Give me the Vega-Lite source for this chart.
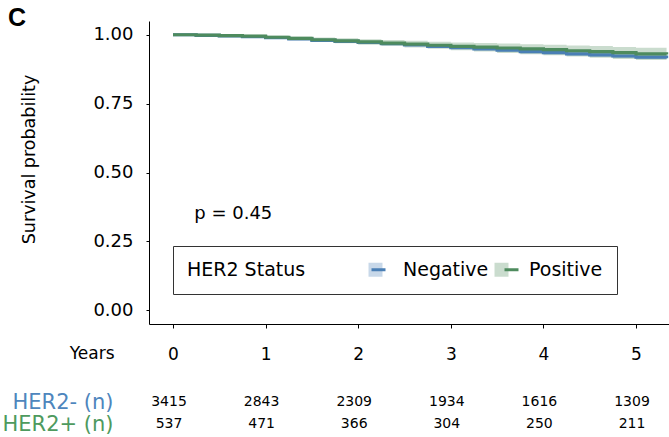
{
  "$schema": "https://vega.github.io/schema/vega-lite/v6.json",
  "background": "white",
  "padding": {"left": 2, "top": 6, "right": 0, "bottom": 0},
  "title": {
    "text": "C",
    "anchor": "start",
    "frame": "bounds",
    "font": "Liberation Sans",
    "fontSize": 25,
    "fontWeight": "bold",
    "color": "black",
    "dx": 6,
    "offset": -30,
    "baseline": "alphabetic"
  },
  "config": {
    "view": {"stroke": null},
    "font": "DejaVu Sans",
    "axis": {
      "grid": false,
      "domainColor": "black",
      "tickColor": "black",
      "labelColor": "black",
      "titleColor": "black",
      "titleFontWeight": "normal"
    }
  },
  "spacing": 29,
  "resolve": {
    "scale": {"fill": "independent", "stroke": "independent"},
    "legend": {"fill": "independent", "stroke": "independent"}
  },
  "datasets": {
    "km": [
      {"status": "Negative", "time": 0, "surv": 1.0, "lower": 1.0, "upper": 1.0},
      {"status": "Negative", "time": 0.25, "surv": 0.998, "lower": 0.997, "upper": 0.999},
      {"status": "Negative", "time": 0.5, "surv": 0.996, "lower": 0.994, "upper": 0.998},
      {"status": "Negative", "time": 0.75, "surv": 0.993, "lower": 0.991, "upper": 0.995},
      {"status": "Negative", "time": 1.0, "surv": 0.99, "lower": 0.987, "upper": 0.993},
      {"status": "Negative", "time": 1.25, "surv": 0.985, "lower": 0.982, "upper": 0.988},
      {"status": "Negative", "time": 1.5, "surv": 0.98, "lower": 0.977, "upper": 0.983},
      {"status": "Negative", "time": 1.75, "surv": 0.976, "lower": 0.972, "upper": 0.98},
      {"status": "Negative", "time": 2.0, "surv": 0.972, "lower": 0.968, "upper": 0.976},
      {"status": "Negative", "time": 2.25, "surv": 0.968, "lower": 0.964, "upper": 0.972},
      {"status": "Negative", "time": 2.5, "surv": 0.963, "lower": 0.959, "upper": 0.967},
      {"status": "Negative", "time": 2.75, "surv": 0.958, "lower": 0.953, "upper": 0.963},
      {"status": "Negative", "time": 3.0, "surv": 0.953, "lower": 0.948, "upper": 0.958},
      {"status": "Negative", "time": 3.25, "surv": 0.949, "lower": 0.944, "upper": 0.954},
      {"status": "Negative", "time": 3.5, "surv": 0.944, "lower": 0.939, "upper": 0.949},
      {"status": "Negative", "time": 3.75, "surv": 0.939, "lower": 0.933, "upper": 0.945},
      {"status": "Negative", "time": 4.0, "surv": 0.935, "lower": 0.929, "upper": 0.941},
      {"status": "Negative", "time": 4.25, "surv": 0.931, "lower": 0.925, "upper": 0.937},
      {"status": "Negative", "time": 4.5, "surv": 0.927, "lower": 0.92, "upper": 0.934},
      {"status": "Negative", "time": 4.75, "surv": 0.923, "lower": 0.916, "upper": 0.93},
      {"status": "Negative", "time": 5.0, "surv": 0.919, "lower": 0.912, "upper": 0.926},
      {"status": "Negative", "time": 5.33, "surv": 0.915, "lower": 0.907, "upper": 0.923},
      {"status": "Positive", "time": 0, "surv": 1.0, "lower": 1.0, "upper": 1.0},
      {"status": "Positive", "time": 0.25, "surv": 0.999, "lower": 0.997, "upper": 1.0},
      {"status": "Positive", "time": 0.5, "surv": 0.997, "lower": 0.993, "upper": 1.0},
      {"status": "Positive", "time": 0.75, "surv": 0.995, "lower": 0.99, "upper": 1.0},
      {"status": "Positive", "time": 1.0, "surv": 0.991, "lower": 0.985, "upper": 0.997},
      {"status": "Positive", "time": 1.25, "surv": 0.987, "lower": 0.98, "upper": 0.994},
      {"status": "Positive", "time": 1.5, "surv": 0.982, "lower": 0.974, "upper": 0.99},
      {"status": "Positive", "time": 1.75, "surv": 0.978, "lower": 0.969, "upper": 0.987},
      {"status": "Positive", "time": 2.0, "surv": 0.974, "lower": 0.964, "upper": 0.984},
      {"status": "Positive", "time": 2.25, "surv": 0.97, "lower": 0.959, "upper": 0.981},
      {"status": "Positive", "time": 2.5, "surv": 0.966, "lower": 0.954, "upper": 0.978},
      {"status": "Positive", "time": 2.75, "surv": 0.962, "lower": 0.949, "upper": 0.975},
      {"status": "Positive", "time": 3.0, "surv": 0.958, "lower": 0.944, "upper": 0.972},
      {"status": "Positive", "time": 3.25, "surv": 0.955, "lower": 0.939, "upper": 0.97},
      {"status": "Positive", "time": 3.5, "surv": 0.952, "lower": 0.934, "upper": 0.968},
      {"status": "Positive", "time": 3.75, "surv": 0.949, "lower": 0.929, "upper": 0.966},
      {"status": "Positive", "time": 4.0, "surv": 0.946, "lower": 0.926, "upper": 0.964},
      {"status": "Positive", "time": 4.25, "surv": 0.942, "lower": 0.921, "upper": 0.961},
      {"status": "Positive", "time": 4.5, "surv": 0.939, "lower": 0.917, "upper": 0.959},
      {"status": "Positive", "time": 4.75, "surv": 0.935, "lower": 0.912, "upper": 0.956},
      {"status": "Positive", "time": 5.0, "surv": 0.931, "lower": 0.908, "upper": 0.953},
      {"status": "Positive", "time": 5.33, "surv": 0.928, "lower": 0.905, "upper": 0.951}
    ],
    "risk": [
      {"row": "HER2- (n)", "year": 0, "n": 3415},
      {"row": "HER2- (n)", "year": 1, "n": 2843},
      {"row": "HER2- (n)", "year": 2, "n": 2309},
      {"row": "HER2- (n)", "year": 3, "n": 1934},
      {"row": "HER2- (n)", "year": 4, "n": 1616},
      {"row": "HER2- (n)", "year": 5, "n": 1309},
      {"row": "HER2+ (n)", "year": 0, "n": 537},
      {"row": "HER2+ (n)", "year": 1, "n": 471},
      {"row": "HER2+ (n)", "year": 2, "n": 366},
      {"row": "HER2+ (n)", "year": 3, "n": 304},
      {"row": "HER2+ (n)", "year": 4, "n": 250},
      {"row": "HER2+ (n)", "year": 5, "n": 211}
    ],
    "pval": [
      {"label": "p = 0.45", "t": 0.23, "s": 0.35}
    ]
  },
  "vconcat": [
    {
      "width": 521,
      "height": 303,
      "data": {"name": "km"},
      "encoding": {
        "x": {
          "field": "time",
          "type": "quantitative",
          "scale": {"domain": [-0.259, 5.367], "nice": false, "zero": false},
          "axis": {
            "values": [0, 1, 2, 3, 4, 5],
            "format": "d",
            "title": "Years",
            "titleX": -35,
            "titleY": 29,
            "titleAlign": "right",
            "titleBaseline": "middle",
            "titleAngle": 0,
            "titleFontSize": 17,
            "labelFontSize": 17,
            "tickSize": 4,
            "labelPadding": 18,
            "labelFlush": false
          }
        }
      },
      "layer": [
        {
          "mark": {"type": "area", "interpolate": "step-after", "opacity": 0.3},
          "encoding": {
            "y": {
              "field": "lower",
              "type": "quantitative",
              "scale": {"domain": [-0.05, 1.05], "nice": false, "zero": false},
              "axis": {
                "values": [0, 0.25, 0.5, 0.75, 1],
                "format": ".2f",
                "title": "Survival probability",
                "titleX": -120,
                "titleY": 138,
                "titleAngle": -90,
                "titleAlign": "center",
                "titleBaseline": "middle",
                "titleFontSize": 17.5,
                "labelFontSize": 18,
                "tickSize": 3,
                "labelPadding": 13
              }
            },
            "y2": {"field": "upper"},
            "fill": {
              "field": "status",
              "type": "nominal",
              "scale": {"domain": ["Negative", "Positive"], "range": ["#4A7FB5", "#4E8B5E"]},
              "legend": {
                "orient": "none",
                "legendX": 24,
                "legendY": 225,
                "direction": "horizontal",
                "title": "HER2 Status",
                "titleOrient": "left",
                "titleFontSize": 19,
                "titleFontWeight": "normal",
                "titleColor": "black",
                "titlePadding": 60,
                "labelFontSize": 19,
                "labelColor": "black",
                "labelOffset": 18,
                "columnPadding": 3,
                "symbolType": "square",
                "symbolSize": 196,
                "symbolOpacity": 0.3,
                "symbolStrokeWidth": 0,
                "padding": 14,
                "strokeColor": "#333333"
              }
            }
          }
        },
        {
          "mark": {"type": "line", "interpolate": "step-after", "strokeWidth": 3.2},
          "encoding": {
            "y": {"field": "surv", "type": "quantitative", "title": "Survival probability"},
            "stroke": {
              "field": "status",
              "type": "nominal",
              "scale": {"range": ["#4A7FB5", "#4E8B5E"]},
              "legend": {
                "orient": "none",
                "legendX": 206,
                "legendY": 225,
                "direction": "horizontal",
                "title": null,
                "labelExpr": "''",
                "labelFontSize": 19,
                "labelOffset": 0,
                "columnPadding": 106,
                "symbolType": "stroke",
                "symbolSize": 196,
                "symbolStrokeWidth": 3,
                "padding": 14
              }
            }
          }
        },
        {
          "data": {"name": "pval"},
          "mark": {"type": "text", "align": "left", "baseline": "middle", "fontSize": 18, "color": "black"},
          "encoding": {
            "x": {"field": "t", "type": "quantitative", "title": "Years", "scale": {"domain": [-0.259, 5.367], "nice": false, "zero": false}},
            "y": {"field": "s", "type": "quantitative", "title": "Survival probability", "scale": {"domain": [-0.05, 1.05], "nice": false, "zero": false}},
            "text": {"field": "label"}
          }
        }
      ]
    },
    {
      "width": 521,
      "height": 44,
      "data": {"name": "risk"},
      "mark": {"type": "text", "fontSize": 14, "dx": -4, "color": "black"},
      "encoding": {
        "x": {
          "field": "year",
          "type": "quantitative",
          "scale": {"domain": [-0.259, 5.367], "nice": false, "zero": false},
          "axis": null
        },
        "y": {
          "field": "row",
          "type": "nominal",
          "sort": ["HER2- (n)", "HER2+ (n)"],
          "scale": {"paddingInner": 0, "paddingOuter": 0},
          "axis": {
            "title": null,
            "domain": false,
            "ticks": false,
            "labelFontSize": 21,
            "labelPadding": 36,
            "labelLimit": 300,
            "labelColor": {
              "condition": {"test": "datum.value === 'HER2- (n)'", "value": "#4E86BD"},
              "value": "#4E9A5E"
            }
          }
        },
        "text": {"field": "n", "type": "quantitative", "format": "d"}
      }
    }
  ]
}
